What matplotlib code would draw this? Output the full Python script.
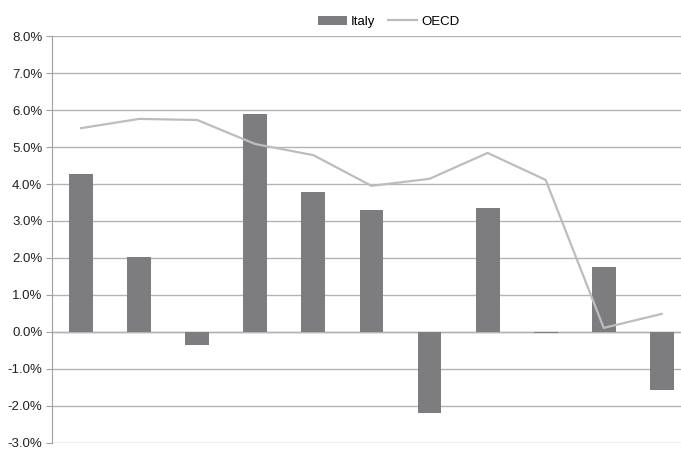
import numpy as np
import matplotlib.pyplot as plt
from matplotlib.ticker import FuncFormatter

plt.rcParams['font.family'] = ['Liberation Sans', 'DejaVu Sans']
plt.rcParams['font.size'] = 9.5

# annual growth, %
italy = [4.27, 2.03, -0.35, 5.89, 3.78, 3.30, -2.19, 3.35, -0.04, 1.76, -1.57]
oecd = [5.51, 5.76, 5.73, 5.08, 4.78, 3.95, 4.14, 4.84, 4.11, 0.11, 0.49]

x = np.arange(len(italy))

fig = plt.figure(figsize=(6.81, 4.49), dpi=100)
ax = fig.add_axes([0.0764, 0.0134, 0.9236, 0.9064])

bars = ax.bar(x, italy, 0.41, color='#7d7d80', label='Italy', zorder=2)
line, = ax.plot(x, oecd, color='#bdbdbd', lw=1.6, label='OECD', zorder=3)

ax.set_ylim(-3, 8)
ax.set_yticks(np.arange(-3, 9, 1))
ax.yaxis.set_major_formatter(FuncFormatter(lambda v, p: '%.1f%%' % v))
ax.set_xlim(-0.5, 10.33)
ax.set_xticks([])

ax.grid(axis='y', color='#b4b4b4', lw=1, zorder=0)
ax.axhline(0, color='#a0a0a0', lw=1, zorder=1)
for s in ['top', 'right', 'bottom']:
    ax.spines[s].set_visible(False)
ax.spines['left'].set_color('#a0a0a0')
ax.tick_params(axis='y', length=4, color='#a0a0a0', labelcolor='#222222', pad=3)

ax.legend([bars, line], ['Italy', 'OECD'], loc='lower center',
          bbox_to_anchor=(0.535, 1.0), ncol=2, frameon=False,
          handlelength=2.2, handletextpad=0.3, columnspacing=1.0, borderaxespad=0.2)

fig.savefig('out.png', dpi=100)
